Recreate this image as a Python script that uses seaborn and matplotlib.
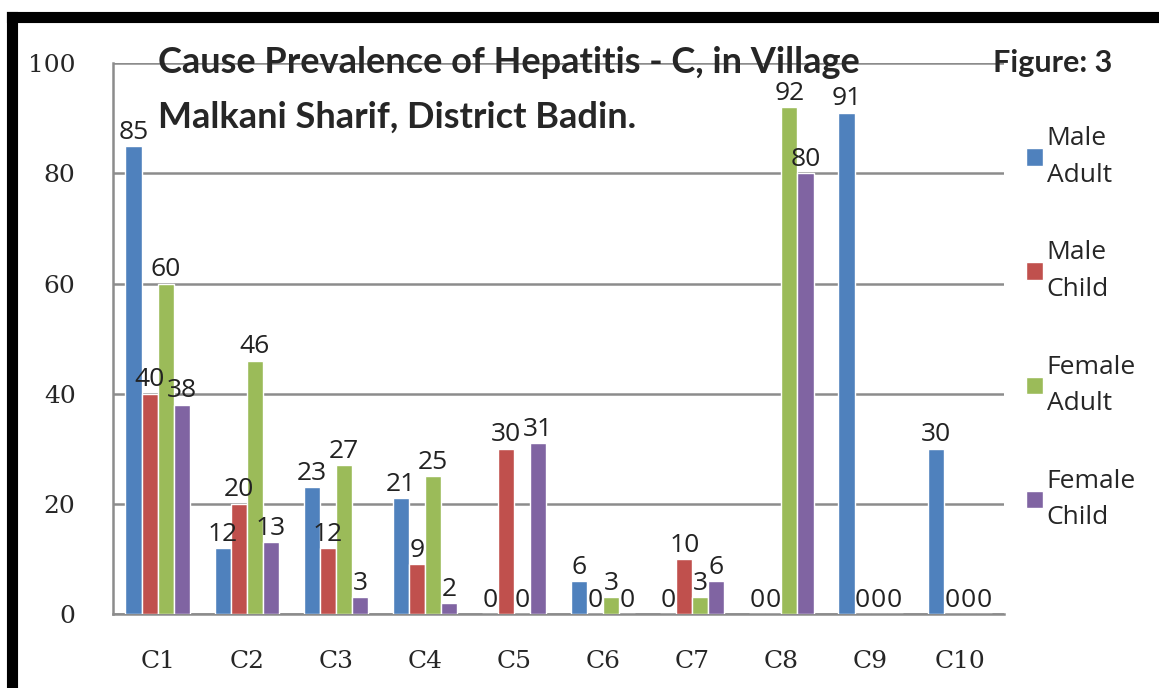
import pandas as pd
import matplotlib.pyplot as plt
import seaborn as sns
from matplotlib.lines import Line2D

# Dados
causas = ['C1', 'C2', 'C3', 'C4', 'C5', 'C6', 'C7', 'C8', 'C9', 'C10']
male_adult = [85, 12, 23, 21, 0, 6, 0, 0, 91, 30]
male_child = [40, 20, 12, 9, 30, 0, 10, 0, 0, 0]
female_adult = [60, 46, 27, 25, 0, 3, 3, 92, 0, 0]
female_child = [38, 13, 3, 2, 31, 0, 6, 80, 0, 0]
grupos = ['Male\nAdult', 'Male\nChild', 'Female\nAdult', 'Female\nChild']
cores = ['#4F81BD', '#C0504D', '#9BBB59', '#8064A2']

df = pd.DataFrame({
    'causa': causas * 4,
    'grupo': [g for g in grupos for _ in causas],
    'valor': male_adult + male_child + female_adult + female_child,
})

sns.set_style('white')
fig = plt.figure(figsize=(11.59, 6.88), dpi=100)
ax = fig.add_axes([0.0975, 0.1076, 0.769, 0.8004])

sns.barplot(data=df, x='causa', y='valor', hue='grupo', palette=cores,
            saturation=1, width=0.72, ax=ax, zorder=3)

# rótulos de dados
for cont in ax.containers:
    ax.bar_label(cont, padding=1, fontsize=19, family='Open Sans', color='#222222')

ax.set_ylim(0, 100)
ax.set_yticks(range(0, 101, 20))
ax.set_xlim(-0.5, 9.5)
ax.yaxis.grid(True, color='#8c8c8c', linewidth=1.8, zorder=0)
ax.set_axisbelow(True)
for s in ['top', 'right']:
    ax.spines[s].set_visible(False)
for s in ['left', 'bottom']:
    ax.spines[s].set_color('#8c8c8c')
    ax.spines[s].set_linewidth(1.8)
ax.set_xlabel('')
ax.set_ylabel('')

# ticks do eixo x nos limites das categorias
ax.set_xticks([i for i in range(len(causas))])
ax.set_xticklabels(causas, family='DejaVu Serif', fontsize=18)
ax.tick_params(axis='x', length=0, pad=26)
ax.set_xticks([i - 0.5 for i in range(len(causas) + 1)], minor=True)
ax.tick_params(axis='x', which='minor', length=8, width=1.8, color='#8c8c8c', direction='out')
ax.tick_params(axis='y', length=7, width=1.8, color='#8c8c8c', pad=20)
for t in ax.get_yticklabels():
    t.set_family('DejaVu Serif')
    t.set_fontsize(18)

# legenda
leg = ax.legend(loc='upper left', bbox_to_anchor=(1.012, 0.905), frameon=False,
                prop={'family': 'Open Sans', 'size': 19}, handlelength=0.65,
                handleheight=0.65, handletextpad=0.15, labelspacing=2.0,
                borderaxespad=0)
for t in leg.get_texts():
    t.set_linespacing(1.6)
leg.set_zorder(5)

# título (duas linhas separadas)
fig.text(0.136, 0.909, 'Cause Prevalence of Hepatitis - C, in Village',
         family='Lato', weight='bold', fontsize=26, ha='left', va='center', zorder=6)
fig.text(0.136, 0.829, 'Malkani Sharif, District Badin.',
         family='Lato', weight='bold', fontsize=26, ha='left', va='center', zorder=6)
fig.text(0.857, 0.909, 'Figure: 3', family='Lato', weight='bold', fontsize=22,
         ha='left', va='center')

# moldura preta
fig.add_artist(Line2D([0.0104, 0.0104], [0.0, 0.975], color='black', linewidth=8,
                      transform=fig.transFigure, solid_capstyle='projecting'))
fig.add_artist(Line2D([0.0104, 1.0], [0.975, 0.975], color='black', linewidth=8,
                      transform=fig.transFigure, solid_capstyle='projecting'))

plt.savefig('out.png', dpi=100)
